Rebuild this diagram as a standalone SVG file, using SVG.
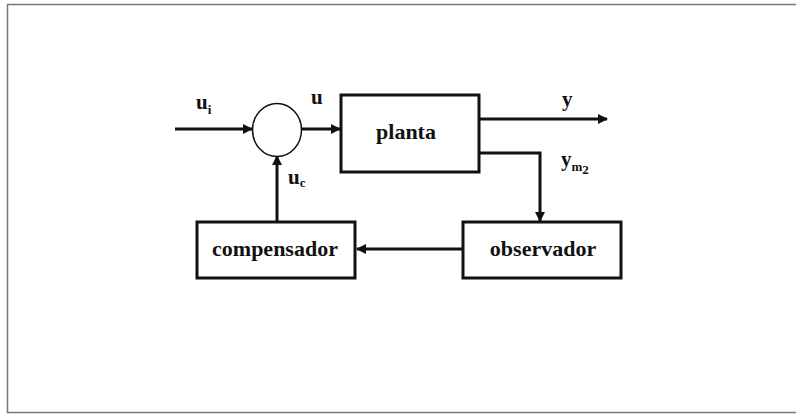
<svg xmlns="http://www.w3.org/2000/svg" width="796" height="417" viewBox="0 0 796 417">
<style>
.box{fill:#fff;stroke:#111;stroke-width:3}
.ln{fill:none;stroke:#111;stroke-width:3}
.t{font-family:"Liberation Serif",serif;font-weight:bold;fill:#111}
.lbl{font-family:"Liberation Serif",serif;font-weight:bold;fill:#111;font-size:21px}
.sub{font-size:13px}
</style>
<defs>
<marker id="ah" markerWidth="10" markerHeight="10" refX="9" refY="5" orient="auto" markerUnits="userSpaceOnUse">
<path d="M0,0 L10,5 L0,10 Z" fill="#111"/>
</marker>
</defs>
<rect x="7.5" y="4.5" width="795" height="408" fill="#fff" stroke="#777" stroke-width="1.5"/>
<g id="connectors">
<line class="ln" x1="175" y1="129" x2="252" y2="129" marker-end="url(#ah)"/>
<line class="ln" x1="302" y1="129" x2="340" y2="129" marker-end="url(#ah)"/>
<line class="ln" x1="479" y1="119" x2="607" y2="119" marker-end="url(#ah)"/>
<polyline class="ln" points="479,153 540,153 540,221" marker-end="url(#ah)"/>
<line class="ln" x1="463" y1="249" x2="357" y2="249" marker-end="url(#ah)"/>
<line class="ln" x1="277" y1="222" x2="277" y2="156" marker-end="url(#ah)"/>
</g>
<g id="sum">
<ellipse cx="277" cy="130" rx="24.5" ry="26.5" fill="#fff" stroke="#111" stroke-width="1.5"/>
</g>
<g id="planta">
<rect class="box" x="341" y="95" width="138" height="77"/>
<text class="t" x="406" y="139" font-size="22" text-anchor="middle">planta</text>
</g>
<g id="observador">
<rect class="box" x="463" y="222" width="158" height="56"/>
<text class="t" x="543" y="256" font-size="22" text-anchor="middle">observador</text>
</g>
<g id="compensador">
<rect class="box" x="197" y="222" width="158" height="56"/>
<text class="t" x="275" y="256" font-size="22" text-anchor="middle">compensador</text>
</g>
<g id="labels">
<text class="lbl" x="196" y="109">u<tspan class="sub" dy="5">i</tspan></text>
<text class="lbl" x="311" y="104">u</text>
<text class="lbl" x="562" y="106">y</text>
<text class="lbl" x="561" y="166">y<tspan class="sub" dy="5" font-size="15">m</tspan><tspan class="sub" dy="3" font-size="10">2</tspan></text>
<text class="lbl" x="288" y="184">u<tspan class="sub" dy="3">c</tspan></text>
</g>
</svg>
